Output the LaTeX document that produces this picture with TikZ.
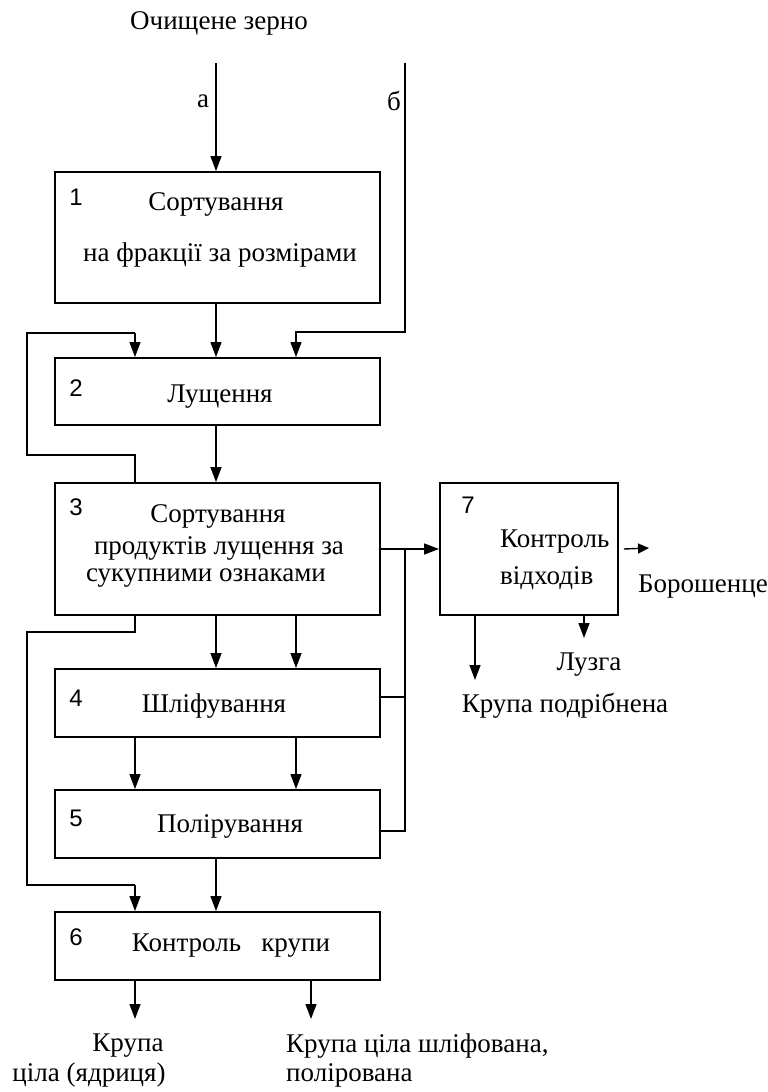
\documentclass[tikz,border=0pt]{standalone}
\usepackage{fontspec}
\setmainfont{Liberation Serif}
\newfontfamily\numfont{Liberation Sans}
\usetikzlibrary{arrows.meta}

\tikzset{
  box/.style={draw, line width=1.9pt, minimum width=325pt, inner sep=0pt},
  conn/.style={line width=1.4pt},
  arr/.style={conn, -{Triangle[length=15pt,width=11pt]}},
  arrsmall/.style={conn, -{Triangle[length=11pt,width=10pt]}},
  txt/.style={font=\fontsize{27}{31}\selectfont, inner sep=0pt},
  num/.style={font=\numfont\fontsize{24}{28}\selectfont, inner sep=0pt}
}

\begin{document}
\begin{tikzpicture}[x=1pt,y=-1pt]
\useasboundingbox (0,0) rectangle (768,1092);

% column positions of the vertical flows
\coordinate (xL) at (27,0);
\coordinate (xl) at (135,0);
\coordinate (xm) at (216,0);
\coordinate (xr) at (296,0);
\coordinate (xn) at (405,0);

% process boxes
\node[box, minimum height=131pt] (b1) at (217.5,237.5) {};
\node[box, minimum height=67pt]  (b2) at (217.5,391.5) {};
\node[box, minimum height=132pt] (b3) at (217.5,549) {};
\node[box, minimum height=68pt]  (b4) at (217.5,703) {};
\node[box, minimum height=68pt]  (b5) at (217.5,824) {};
\node[box, minimum height=68pt]  (b6) at (217.5,946) {};
\node[box, minimum height=132pt, minimum width=178pt] (b7) at (529,549) {};

% box numbers
\node[num] (n1) at (76,197) {1};
\node[num] (n2) at (76,388) {2};
\node[num] (n3) at (76,507) {3};
\node[num] (n4) at (76,698) {4};
\node[num] (n5) at (76,818) {5};
\node[num] (n6) at (76,937) {6};
\node[num] (n7) at (468,505) {7};

% box texts
\node[txt] (t1a) at (216,204) {Сортування};
\node[txt] (t1b) at (220,255) {на фракції за розмірами};
\node[txt] (t2) at (220,397) {Лущення};
\node[txt] (t3a) at (218,516) {Сортування};
\node[txt] (t3b) at (219,548) {продуктів лущення за};
\node[txt] (t3c) at (206,578) {сукупними ознаками};
\node[txt] (t4) at (214,706) {Шліфування};
\node[txt] (t5) at (230,826) {Полірування};
\node[txt] (t6) at (231,946) {Контроль\ \ \ крупи};
\node[txt, anchor=west] (t7a) at (500,542) {Контроль};
\node[txt, anchor=west] (t7b) at (500,578) {відходів};

% input / output labels
\node[txt] (in) at (219,23) {Очищене зерно};
\node[txt] (la) at (203,101) {а};
\node[txt] (lb) at (394,101) {б};
\node[txt] (boro) at (703,587) {Борошенце};
\node[txt] (luzga) at (589,665) {Лузга};
\node[txt] (kpod) at (565,706) {Крупа подрібнена};
\node[txt] (k1a) at (128,1046) {Крупа};
\node[txt] (k1b) at (89,1075) {ціла (ядриця)};
\node[txt, anchor=west] (k2a) at (286,1046) {Крупа ціла шліфована,};
\node[txt, anchor=west] (k2b) at (286,1075) {полірована};

% free ends and bends
\coordinate (atop) at (216,63);
\coordinate (btop) at (405,63);
\coordinate (bturn) at (296,332);
\coordinate (r1) at (27,455);
\coordinate (r2) at (135,333);
\coordinate (s1) at (27,632);
\coordinate (s2) at (135,885);
\coordinate (jn) at (405,549);
\coordinate (bout) at (649,548);
\coordinate (o7a) at (475,680);
\coordinate (o7b) at (584,638);
\coordinate (o6a) at (135,1019);
\coordinate (o6b) at (311,1019);
\coordinate (x7a) at (475,0);
\coordinate (x7b) at (584,0);
\coordinate (x6b) at (311,0);

% inputs
\draw[arr] (atop) -- (xm |- b1.north);
\draw[arr] (btop) |- (bturn) -- (xr |- b2.north);

% main flow
\draw[arr] (xm |- b1.south) -- (xm |- b2.north);
\draw[arr] (xm |- b2.south) -- (xm |- b3.north);
\draw[arr] (r2) -- (xl |- b2.north);
\draw[conn] (xl |- b3.north) |- (r1) |- (r2);

\draw[arr] (xm |- b3.south) -- (xm |- b4.north);
\draw[arr] (xr |- b3.south) -- (xr |- b4.north);
\draw[arr] (xl |- b4.south) -- (xl |- b5.north);
\draw[arr] (xr |- b4.south) -- (xr |- b5.north);
\draw[arr] (xm |- b5.south) -- (xm |- b6.north);

% bypass of sorted product to control
\draw[conn] (xl |- b3.south) |- (s1) |- (s2);
\draw[arr] (s2) -- (xl |- b6.north);

% waste streams to box 7
\draw[arr] (b3.east) -- (b7.west);
\draw[conn] ([yshift=6pt]b4.east) -| (jn);
\draw[conn] ([yshift=-7pt]b5.east) -| (jn);

% outputs of box 7
\draw[arrsmall] ([xshift=5pt]b7.east) -- (bout);
\draw[arr] (x7a |- b7.south) -- (o7a);
\draw[arr] (x7b |- b7.south) -- (o7b);

% outputs of box 6
\draw[arr] (xl |- b6.south) -- (o6a);
\draw[arr] (x6b |- b6.south) -- (o6b);
\end{tikzpicture}
\end{document}
